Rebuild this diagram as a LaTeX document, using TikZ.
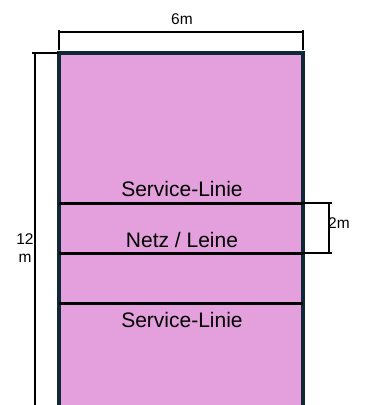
\documentclass[tikz,border=0pt]{standalone}
\usepackage{fontspec}
\setmainfont{Liberation Sans}
\usepackage{tikz}
\usetikzlibrary{positioning}
\definecolor{courtpink}{HTML}{E4A0DC}
\definecolor{courtedge}{HTML}{0E2836}
\tikzset{
    court/.style={
        draw=courtedge,
        fill=courtpink,
        line width=3.5pt
    },
    courtline/.style={
        draw=black,
        line width=3pt
    },
    dimline/.style={
        draw=black,
        line width=1.4pt
    },
    bigtext/.style={
        font=\fontsize{21}{25}\selectfont,
        inner sep=0pt,
        anchor=base
    },
    smalltext/.style={
        font=\fontsize{15.5}{18}\selectfont,
        inner sep=0pt,
        anchor=base
    }
}

\begin{document}
\begin{tikzpicture}[x=1pt, y=-1pt]
  \useasboundingbox (0,0) rectangle (368,405);
  \clip (0,0) rectangle (368,405);

  % Court corners
  \coordinate (tl) at (59,53);
  \coordinate (tr) at (303,53);
  \coordinate (bl) at (59,420);
  \coordinate (br) at (303,420);

  % Court
  \draw[court] (tl) rectangle (br);

  % Lines across the court
  \coordinate (s1l) at (59,203);  \coordinate (s1r) at (303,203);
  \coordinate (nl)  at (59,253);  \coordinate (nr)  at (303,253);
  \coordinate (s2l) at (59,303);  \coordinate (s2r) at (303,303);
  \draw[courtline] (s1l) -- (s1r);
  \draw[courtline] (nl) -- (nr);
  \draw[courtline] (s2l) -- (s2r);

  % Labels
  \node[bigtext] (service1) at (182,196) {Service-Linie};
  \node[bigtext] (netz)     at (182,247) {Netz / Leine};
  \node[bigtext] (service2) at (182,327) {Service-Linie};

  % Width dimension
  \coordinate (wl) at (59,32);
  \coordinate (wr) at (303,32);
  \draw[dimline] (wl) -- (wr);
  \draw[dimline] (59,30) -- (59,50);
  \draw[dimline] (303,30) -- (303,50);
  \node[smalltext] (width) at (182,24) {6m};

  % Length dimension
  \coordinate (lt) at (35,53);
  \coordinate (lb) at (35,420);
  \draw[dimline] (lt) -- (lb);
  \draw[dimline] (32,53) -- (tl);
  \node[smalltext] (len1) at (25,244) {12};
  \node[smalltext] (len2) at (25,262) {m};

  % Net zone dimension
  \coordinate (zt) at (329,203);
  \coordinate (zb) at (329,253);
  \draw[dimline] (zt) -- (zb);
  \draw[dimline] (s1r) -- (332,203);
  \draw[dimline] (nr) -- (332,253);
  \node[smalltext, anchor=base west] (zone) at (328,228) {2m};
\end{tikzpicture}
\end{document}
